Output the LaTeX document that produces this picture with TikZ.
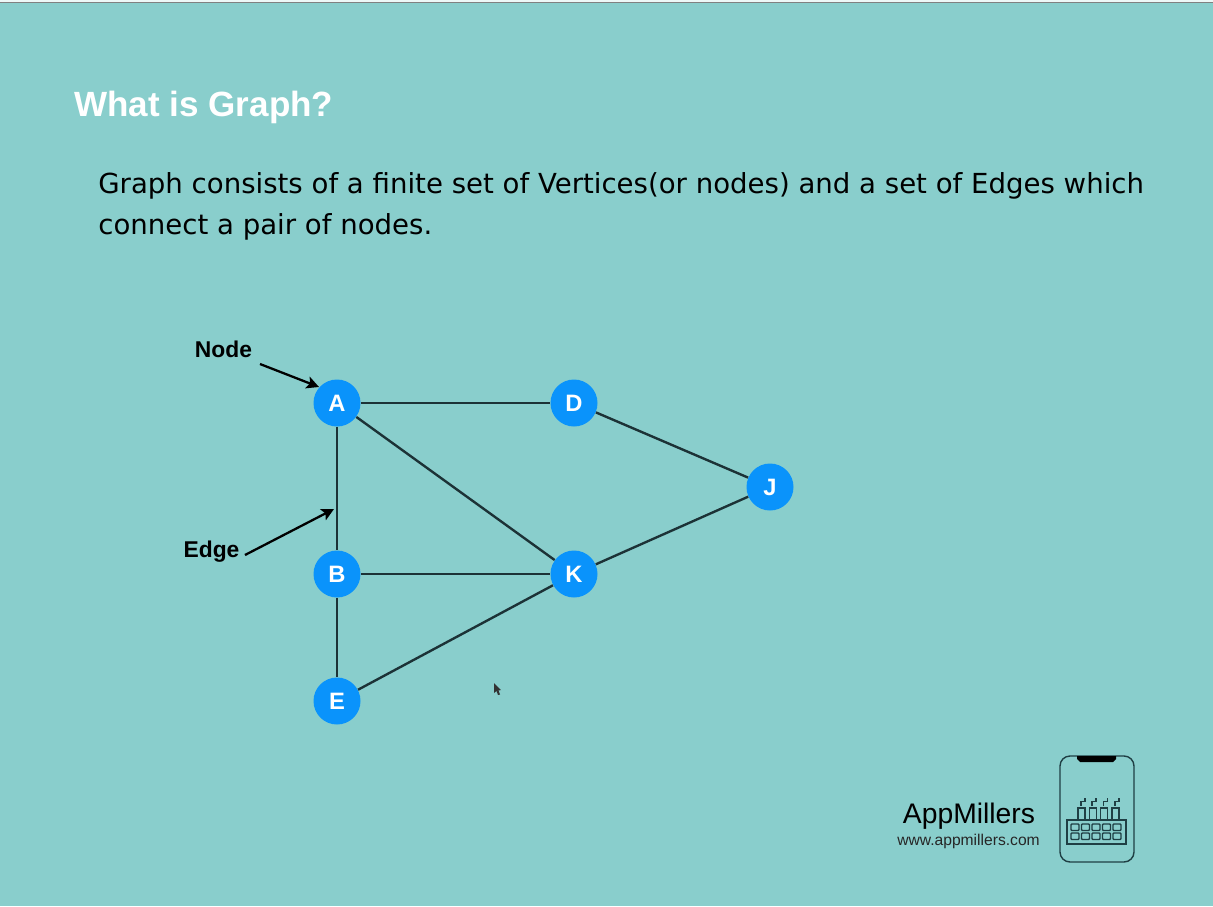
\documentclass[tikz,border=0pt]{standalone}
\usepackage{fontspec}
\setmainfont{Liberation Sans}
\newfontfamily\bodyfont{DejaVu Sans}
\usetikzlibrary{arrows.meta}
\definecolor{slidebg}{HTML}{89CECC}
\definecolor{vertexblue}{HTML}{0A93FB}
\definecolor{edgedark}{HTML}{1C3236}
\definecolor{logodark}{HTML}{1F3F44}
\tikzset{
	vertex/.style={circle, minimum size=47*0.02cm, inner sep=0pt, fill=vertexblue, text=white, font=\fontsize{13.5}{13.5}\selectfont\bfseries},
	edge/.style={edgedark, line width=1.35pt},
	pointer/.style={black, line width=1.3pt, -{Stealth[length=7pt,width=7pt,inset=1.5pt]}},
	callout/.style={font=\fontsize{13}{13}\selectfont\bfseries, text=black, inner sep=0pt},
	logoline/.style={logodark, line width=.8pt}
}
\begin{document}
\begin{tikzpicture}[x=0.02cm, y=-0.02cm]
\useasboundingbox (0,0) rectangle (1213,906);
\fill[slidebg] (0,0) rectangle (1213,906);
\fill[white!85!slidebg] (0,0) rectangle (1213,2);
\draw[gray, line width=.5pt] (0,2.5) -- (1213,2.5);
% heading
\node[anchor=base west, inner sep=0pt, text=white, font=\fontsize{19.95}{19.95}\selectfont\bfseries] (title) at (74,116) {What is Graph?};
\node[anchor=base west, inner sep=0pt, text=black, font=\fontsize{15.7}{15.7}\bodyfont] (line1) at (98,193.5) {Graph consists of a finite set of Vertices(or nodes) and a set of Edges which};
\node[anchor=base west, inner sep=0pt, text=black, font=\fontsize{15.7}{15.7}\bodyfont] (line2) at (98,234.5) {connect a pair of nodes.};
% the graph
\node[vertex] (A) at (337,403) {A};
\node[vertex] (D) at (574,403) {D};
\node[vertex] (J) at (770,487) {J};
\node[vertex] (B) at (337,574) {B};
\node[vertex] (K) at (574,574) {K};
\node[vertex] (E) at (337,701) {E};
\foreach \from/\to in {A/D, A/B, A/K, D/J, B/K, B/E, K/J, E/K}
	\draw[edge] (\from) -- (\to);
% labels
\node[callout] (nodelabel) at (223.5,349) {Node};
\node[callout] (edgelabel) at (211.5,552) {Edge};
\coordinate (n1) at (260,364);
\coordinate (n2) at (319,387);
\coordinate (e1) at (245,555);
\coordinate (e2) at (334,509);
\draw[pointer] (n1) -- (n2);
\draw[pointer] (e1) -- (e2);
% mouse pointer
\fill[black!80] (494,683) -- (494,693) -- (496.5,691) -- (498,695) -- (500,694.5) -- (498.5,690.5) -- (501,690) -- cycle;
% logo
\node[anchor=base, inner sep=0pt, text=black, font=\fontsize{16.1}{16.1}\selectfont] (brand) at (969,823) {AppMillers};
\node[anchor=base, inner sep=0pt, text=black!85, font=\fontsize{8.9}{8.9}\selectfont] (site) at (968.5,845) {www.appmillers.com};
\draw[logoline, rounded corners=10*0.02cm] (1060,756) rectangle (1134,862);
\fill[black] (1077,756) -- (1116,756) -- (1116,759) to[bend left=20] (1113,762) -- (1080,762) to[bend left=20] (1077,759) -- cycle;
\draw[logoline] (1067,820) rectangle (1126,844);
\foreach \col in {0,...,4}
	\foreach \row in {0,1}
		\draw[logoline, rounded corners=.5pt] (1071+\col*10.5,824+\row*9) rectangle ++(8,6.5);
\foreach \col in {0,...,3} {
	\draw[logoline] (1078+\col*11.3,820) -- (1078+\col*11.3,808) -- (1085+\col*11.3,808) -- (1085+\col*11.3,820);
	\draw[logoline, line width=1pt] (1081+\col*11.3,806) -- (1081+\col*11.3,801.5) -- (1085+\col*11.3,801.5) -- (1085+\col*11.3,798);
}
\end{tikzpicture}
\end{document}
